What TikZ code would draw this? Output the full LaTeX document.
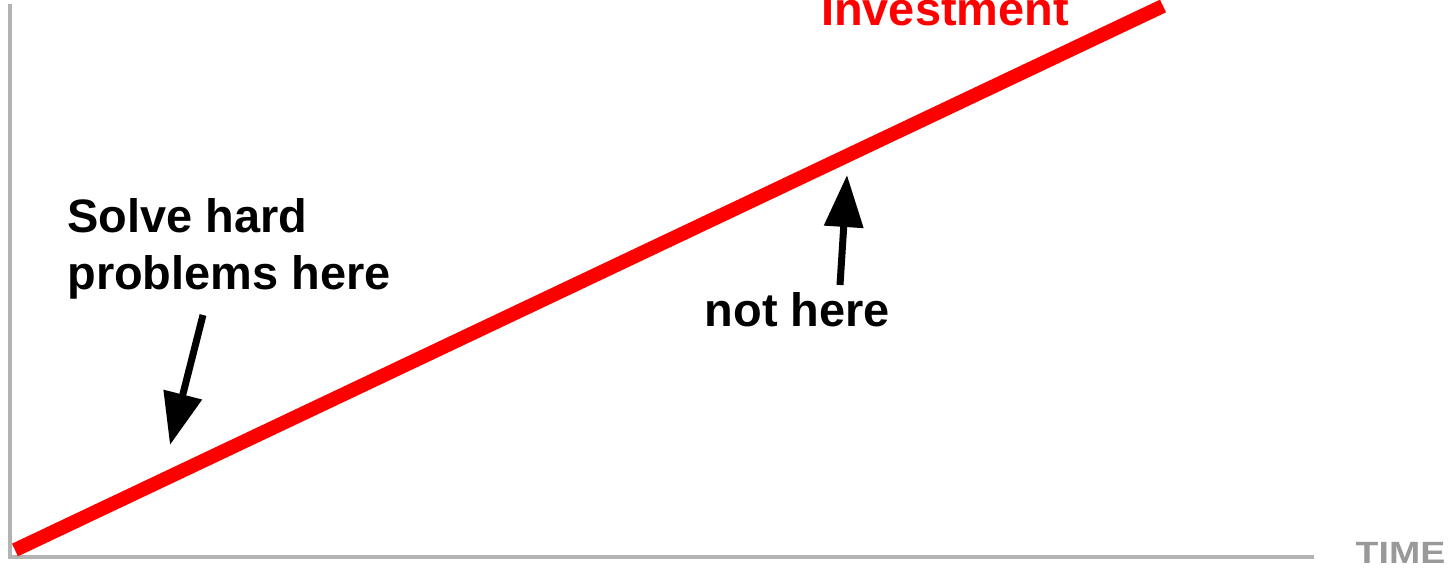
\documentclass[tikz,border=0pt]{standalone}
\usepackage{fontspec}
\setmainfont{Liberation Sans}
\usetikzlibrary{arrows.meta}
\definecolor{axisgray}{HTML}{B3B3B3}
\definecolor{labelgray}{HTML}{999999}
\tikzset{
  bigtext/.style={font=\fontsize{26.7}{32.5}\selectfont\bfseries, inner sep=0pt},
  pointer/.style={line width=0.14cm, -{Triangle[length=1.04cm, width=0.76cm]}}
}
\begin{document}
\begin{tikzpicture}
\useasboundingbox (0,0) rectangle (29.02,11.4);
\draw[axisgray, line width=0.08cm, line join=miter] (0.2,11.32) -- (0.2,0.26) -- (26.28,0.26);
\node[anchor=base, inner sep=0pt, text=labelgray, xscale=1.22, font=\fontsize{17.5}{21}\selectfont\bfseries] (time) at (28.01,0.14) {TIME};
\draw[red, line width=0.28cm] (0.30,0.40) -- (23.26,11.28);
\node[bigtext, red, anchor=base] (invest) at (18.9,10.88) {Investment};
\node[bigtext, anchor=base west, align=left] (hard) at (1.34,5.60) {Solve hard\\problems here};
\node[bigtext, anchor=base] (nothere) at (15.95,4.86) {not here};
\coordinate (hardtail) at (4.06,5.10);
\coordinate (hardtip) at (3.40,2.50);
\coordinate (easytail) at (16.8,5.70);
\coordinate (easytip) at (16.94,7.90);
\draw[pointer] (hardtail) -- (hardtip);
\draw[pointer] (easytail) -- (easytip);
\end{tikzpicture}
\end{document}
